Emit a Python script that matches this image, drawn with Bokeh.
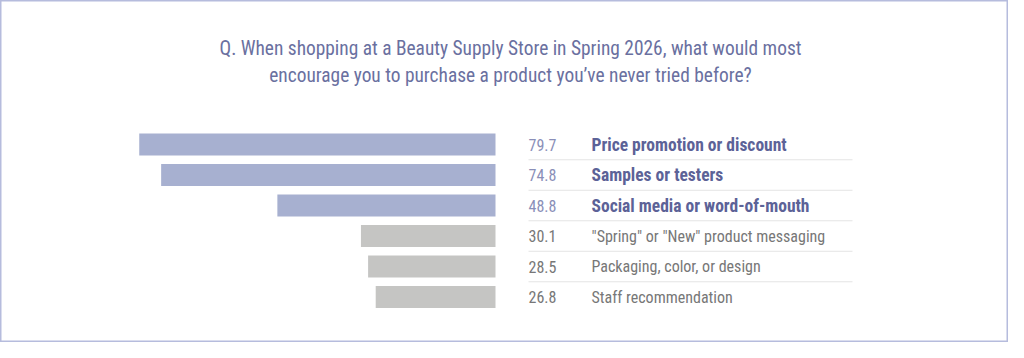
from bokeh.plotting import figure
from bokeh.models import Range1d, ColumnDataSource
from bokeh.core.properties import value
from bokeh.embed import file_html
from bokeh.resources import INLINE

# ---- data ----
labels = ["Price promotion or discount", "Samples or testers", "Social media or word-of-mouth",
          "\"Spring\" or \"New\" product messaging", "Packaging, color, or design", "Staff recommendation"]
values = [79.7, 74.8, 48.8, 30.1, 28.5, 26.8]
highlight = [True, True, True, False, False, False]
title_lines = ["Q. When shopping at a Beauty Supply Store in Spring 2026, what would most",
               "encourage you to purchase a product you\u2019ve never tried before?"]

# ---- styles ----
NARROW = "'Liberation Sans Narrow', 'Arial Narrow', 'Roboto Condensed', 'DejaVu Sans Condensed', sans-serif"
BLUE_BAR = "#a7b0d0"
GRAY_BAR = "#c5c5c3"
BLUE_TEXT = "#5c6297"
BLUE_VAL = "#8a8fb8"
GRAY_TEXT = "#777777"
TITLE_COL = "#6a70a0"

W, H = 1008, 342
PX_PER_UNIT = 4.47
BAR_RIGHT_PX = 495.0
ROW0_PX = 144.0
ROW_PITCH = 30.5

x0 = -BAR_RIGHT_PX / PX_PER_UNIT
x1 = (W - BAR_RIGHT_PX) / PX_PER_UNIT
y_top = -ROW0_PX / ROW_PITCH
y_bot = (H - ROW0_PX) / ROW_PITCH


def px_x(px):
    return (px - BAR_RIGHT_PX) / PX_PER_UNIT


def px_y(py):
    return (py - ROW0_PX) / ROW_PITCH


p = figure(width=W, height=H, output_backend="svg", toolbar_location=None,
           x_range=Range1d(x0, x1), y_range=Range1d(y_bot, y_top),
           min_border=0, min_border_left=0, min_border_right=0,
           min_border_top=0, min_border_bottom=0)
p.axis.visible = False
p.grid.visible = False
p.outline_line_color = "#b6bcdd"
p.outline_line_width = 2
p.background_fill_color = "white"
p.border_fill_color = "white"

rows = list(range(len(values)))
src = ColumnDataSource(dict(
    y=rows,
    left=[-v for v in values],
    right=[0] * len(values),
    color=[BLUE_BAR if h else GRAY_BAR for h in highlight],
    vtxt=[f"{v:.1f}" for v in values],
    vcol=[BLUE_VAL if h else GRAY_TEXT for h in highlight],
    vx=[px_x(528)] * len(values),
))

p.hbar(y="y", left="left", right="right", height=0.72, fill_color="color",
       line_color=None, source=src)

# separators
n = len(values) - 1
p.segment(x0=[px_x(528)] * n, x1=[px_x(852)] * n,
          y0=[r + 0.5 for r in rows[:-1]], y1=[r + 0.5 for r in rows[:-1]],
          line_color="#e4e4e4", line_width=1)

p.text(x="vx", y="y", text="vtxt", text_color="vcol", text_font=value(NARROW),
       text_font_size="16px", text_baseline="middle", source=src)

hi = [i for i in rows if highlight[i]]
lo = [i for i in rows if not highlight[i]]
p.text(x=[px_x(591)] * len(hi), y=hi, text=[labels[i] for i in hi],
       text_color=BLUE_TEXT, text_font=value(NARROW), text_font_style="bold",
       text_font_size="17.5px", text_baseline="middle")
p.text(x=[px_x(591)] * len(lo), y=lo, text=[labels[i] for i in lo],
       text_color=GRAY_TEXT, text_font=value(NARROW),
       text_font_size="16px", text_baseline="middle")

# title
p.text(x=[px_x(510)] * 2, y=[px_y(48), px_y(75)], text=title_lines, text_color=TITLE_COL,
       text_font=value(NARROW), text_font_size="19.4px",
       text_align="center", text_baseline="middle")

open("out.html", "w").write(file_html(p, INLINE))
